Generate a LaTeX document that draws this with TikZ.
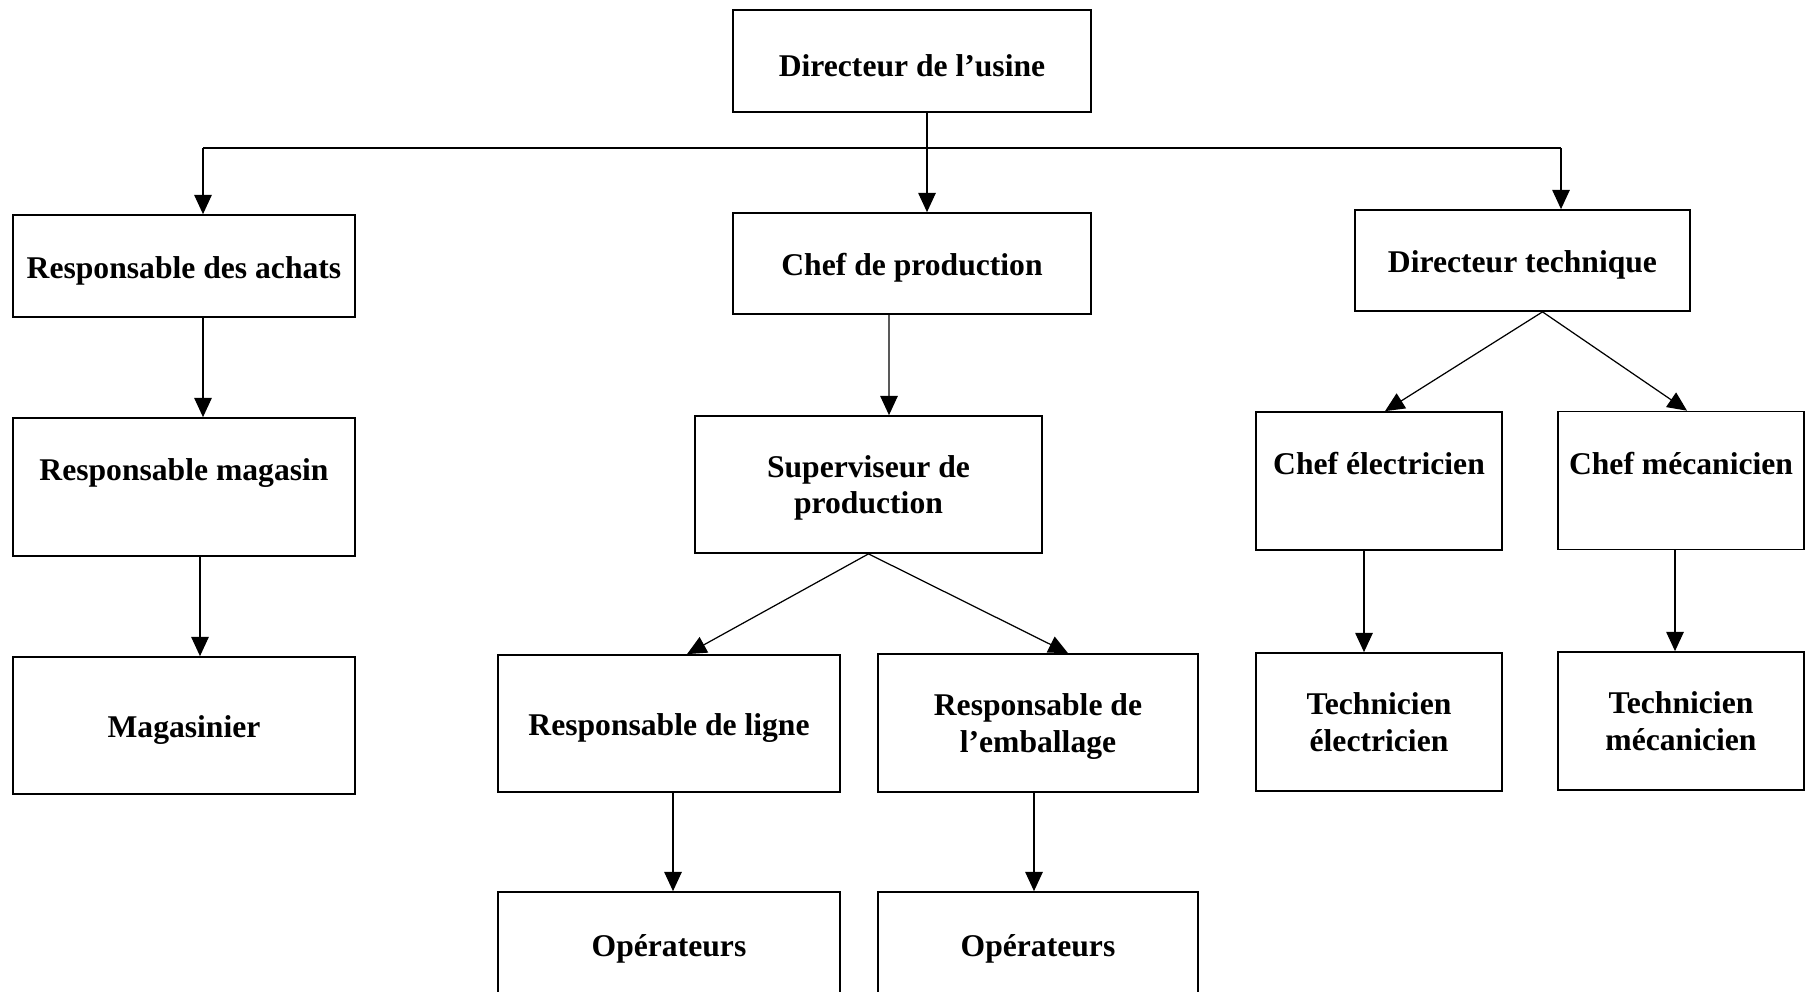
\documentclass[tikz,border=0pt]{standalone}
\usepackage{fontspec}
\setmainfont{Liberation Serif}
\usetikzlibrary{arrows.meta,calc}

\tikzset{
  box/.style={draw, line width=1pt, inner sep=0pt, align=center,
    font=\bfseries\fontsize{18}{21}\selectfont,
    execute at begin node={\rule{0pt}{18pt}}},
  haut/.style={text height=1.25cm, text depth=1.51cm},
  deux/.style={text depth=0pt},
  fleche/.style={line width=0.7pt, -{Triangle[length=11pt,width=10pt]}},
  trait/.style={line width=1pt}
}

\begin{document}
\begin{tikzpicture}[x=0.02cm, y=-0.02cm]
    \useasboundingbox (0,0) rectangle (1805,991);

    % Direction
    \node[box, minimum width=7.16cm, minimum height=2.04cm] (usine) at (912,61) {Directeur de l’usine};

    % Premier niveau
    \node[box, minimum width=6.84cm, minimum height=2.04cm] (achats) at (184,266) {Responsable des achats};
    \node[box, minimum width=7.16cm, minimum height=2.02cm] (chefprod) at (912,263.5) {Chef de production};
    \node[box, minimum width=6.7cm, minimum height=2.02cm] (dirtech) at (1522.5,260.5) {Directeur technique};

    % Deuxieme niveau
    \node[box, haut, minimum width=6.84cm] (magasin) at (184,487) {Responsable magasin};
    \node[box, deux, minimum width=6.94cm, minimum height=2.74cm] (superv) at (868.5,484.5) {Superviseur de\\production};
    \node[box, haut, minimum width=4.92cm] (chefelec) at (1379,481) {Chef électricien};
    \node[box, haut, minimum width=4.92cm] (chefmeca) at (1681,480.5) {Chef mécanicien};

    % Troisieme niveau
    \node[box, minimum width=6.84cm, minimum height=2.74cm] (magasinier) at (184,725.5) {Magasinier};
    \node[box, minimum width=6.84cm, minimum height=2.74cm] (ligne) at (669,723.5) {Responsable de ligne};
    \node[box, deux, minimum width=6.4cm, minimum height=2.76cm] (emballage) at (1038,723) {Responsable de\\l’emballage};
    \node[box, minimum width=4.92cm, minimum height=2.76cm] (techelec) at (1379,722) {Technicien\\électricien};
    \node[box, minimum width=4.92cm, minimum height=2.76cm] (techmeca) at (1681,721) {Technicien\\mécanicien};

    % Operateurs
    \node[box, minimum width=6.84cm, minimum height=2.08cm] (oper1) at (669,944) {Opérateurs};
    \node[box, minimum width=6.4cm, minimum height=2.08cm] (oper2) at (1038,944) {Opérateurs};

    % Liaisons
    \coordinate (busL) at (203,148);
    \coordinate (busM) at (927,148);
    \coordinate (busR) at (1561,148);
    \draw[trait] (usine.south -| busM) -- (busM);
    \draw[trait] (busL) -- (busR);
    \draw[fleche] (busL) -- (achats.north -| busL);
    \draw[fleche] (busM) -- (chefprod.north -| busM);
    \draw[fleche] (busR) -- (dirtech.north -| busR);

    \draw[fleche] ($(achats.south)+(19,0)$) -- ($(magasin.north)+(19,0)$);
    \draw[fleche] ($(magasin.south)+(16,0)$) -- ($(magasinier.north)+(16,0)$);
    \draw[fleche] ($(chefprod.south)+(-23,0)$) -- ($(superv.north)+(20.5,0)$);
    \draw[fleche] ($(dirtech.south)+(20,0)$) -- ($(chefelec.north)+(6,0)$);
    \draw[fleche] ($(dirtech.south)+(20,0)$) -- ($(chefmeca.north)+(6,0)$);
    \draw[fleche] (superv.south) -- ($(ligne.north)+(18,0)$);
    \draw[fleche] (superv.south) -- ($(emballage.north)+(30,0)$);
    \draw[fleche] ($(ligne.south)+(4,0)$) -- ($(oper1.north)+(4,0)$);
    \draw[fleche] ($(emballage.south)+(-4,0)$) -- ($(oper2.north)+(-4,0)$);
    \draw[fleche] ($(chefelec.south)+(-15,0)$) -- ($(techelec.north)+(-15,0)$);
    \draw[fleche] ($(chefmeca.south)+(-6,0)$) -- ($(techmeca.north)+(-6,0)$);
\end{tikzpicture}
\end{document}
